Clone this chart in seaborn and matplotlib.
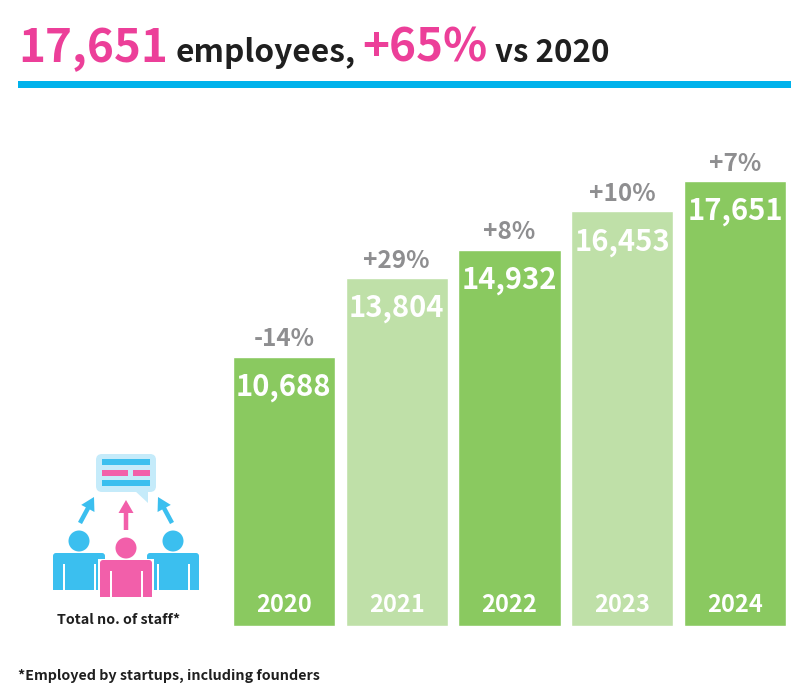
import matplotlib
matplotlib.use("Agg")
import matplotlib.pyplot as plt
from matplotlib.patches import Rectangle, FancyBboxPatch, Circle, Polygon, FancyArrow
import pandas as pd
import seaborn as sns

years = ["2020", "2021", "2022", "2023", "2024"]
staff = [10688, 13804, 14932, 16453, 17651]
staff_labels = ["10,688", "13,804", "14,932", "16,453", "17,651"]
growth = ["-14%", "+29%", "+8%", "+10%", "+7%"]
dark_green = "#8AC960"
light_green = "#BFE0A8"
bar_colors = [dark_green, light_green, dark_green, light_green, dark_green]
PINK = "#EC3F99"
ICON_PINK = "#F25FAA"
BLUE = "#00B2EC"
ICON_BLUE = "#3BBFEF"
BUBBLE = "#C5EBFA"
INK = "#1F1F1F"
GREY = "#8E8E90"

sns.set_theme(style="white")
plt.rcParams["font.family"] = ["Noto Sans CJK SC", "DejaVu Sans"]

W, H = 811, 697
fig = plt.figure(figsize=(W / 100, H / 100), dpi=100, facecolor="white")

left, right, top, bottom = 227.4, 791.6, 120.0, 626.0
ax = fig.add_axes([left / W, 1 - bottom / H, (right - left) / W, (bottom - top) / H])
df = pd.DataFrame({"year": years, "staff": staff})
sns.barplot(data=df, x="year", y="staff", hue="year", palette=bar_colors,
            order=years, hue_order=years, width=0.905, legend=False,
            saturation=1, ax=ax)
ax.set_ylim(0, (bottom - top) / 0.02520)
ax.set_xlim(-0.5, 4.5)
ax.axis("off")
for i, (v, lab, g, y) in enumerate(zip(staff, staff_labels, growth, years)):
    ax.annotate(lab, (i, v), xytext=(0, -27), textcoords="offset pixels",
                ha="center", va="center_baseline", color="white", fontsize=21, fontweight="heavy")
    ax.annotate(g, (i, v), xytext=(0, 20), textcoords="offset pixels",
                ha="center", va="center_baseline", color=GREY, fontsize=17.5, fontweight="bold")
    ax.annotate(y, (i, 0), xytext=(0, 24), textcoords="offset pixels",
                ha="center", va="center_baseline", color="white", fontsize=17, fontweight="heavy")

ov = fig.add_axes([0, 0, 1, 1], zorder=5)
ov.set_xlim(0, W)
ov.set_ylim(H, 0)
ov.axis("off")
ov.patch.set_alpha(0)

ov.text(18, 62, "17,651", color=PINK, fontsize=33, fontweight="heavy", va="baseline")
ov.text(176, 62, "employees,", color=INK, fontsize=22.8, fontweight="bold", va="baseline")
ov.text(362, 62, "+65%", color=PINK, fontsize=33, fontweight="bold", va="baseline")
ov.text(495, 62, "vs 2020", color=INK, fontsize=22.5, fontweight="bold", va="baseline")
ov.add_patch(Rectangle((18, 81), 773, 7, color=BLUE, lw=0))

ov.text(119, 618.5, "Total no. of staff*", color=INK, fontsize=10.3, fontweight="bold", ha="center", va="center_baseline")
ov.text(18, 674.5, "*Employed by startups, including founders", color=INK, fontsize=10.3, fontweight="bold", va="center_baseline")

# Speech bubble
ov.add_patch(FancyBboxPatch((100, 458), 52, 30, boxstyle="round,pad=4,rounding_size=6", color=BUBBLE, lw=0))
ov.add_patch(Polygon([[134, 490], [148, 490], [148, 503]], color=BUBBLE, lw=0))
ov.add_patch(Rectangle((102, 459), 48, 6, color=ICON_BLUE, lw=0))
ov.add_patch(Rectangle((102, 470), 26, 6, color=ICON_PINK, lw=0))
ov.add_patch(Rectangle((133, 470), 17, 6, color=ICON_PINK, lw=0))
ov.add_patch(Rectangle((102, 480), 48, 6, color=ICON_BLUE, lw=0))

def arrow(x0, y0, x1, y1, c):
    ov.add_patch(FancyArrow(x0, y0, x1 - x0, y1 - y0, width=4.5, head_width=15, head_length=13,
                            length_includes_head=True, color=c, lw=0))
arrow(80, 523, 94, 497, ICON_BLUE)
arrow(126, 530, 126, 500, ICON_PINK)
arrow(172, 523, 158, 497, ICON_BLUE)

def person(cx, head_y, body_top, body_bottom, c):
    ov.add_patch(Circle((cx, head_y), 10.5, color=c, lw=0))
    ov.add_patch(FancyBboxPatch((cx - 26, body_top), 52, body_bottom - body_top,
                                boxstyle="round,pad=0,rounding_size=3", color=c, lw=0))
    ov.add_patch(Rectangle((cx - 26, body_bottom - 5), 52, 5, color=c, lw=0))
    for dx in (-16, 15):
        ov.add_patch(Rectangle((cx + dx, body_top + 11), 1.6, body_bottom - body_top - 11, color="white", lw=0))

person(79, 541, 553, 590, ICON_BLUE)
person(173, 541, 553, 590, ICON_BLUE)
ov.add_patch(Rectangle((98, 559), 56, 39, color="white", lw=0))
person(126, 548, 560, 597, ICON_PINK)

fig.savefig("out.png", dpi=100, facecolor="white")
